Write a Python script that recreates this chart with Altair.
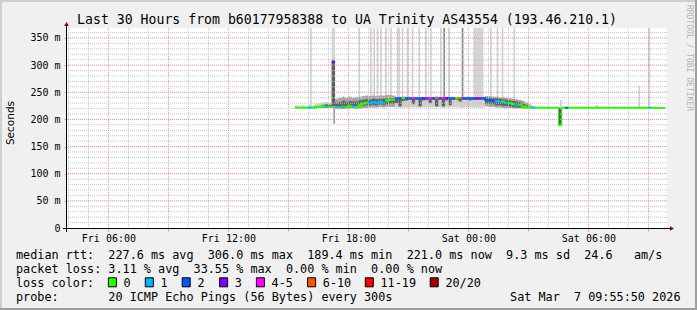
import altair as alt
import pandas as pd

# ---------------- data ----------------
FIRST_STEP = "2026-03-06T15:20:00"   # start of the first 10-minute step
STEP_MIN = 10

# median round-trip time per step (ms)
median_ms = [
    221.5, 221.5, 221.5, 221.5, 221.5, 221.5, 223, 223, 224, 224,
    223, 306, 223, 222, 224, 223, 225, 224, 223, 226,
    229, 231, 230, 232, 230, 233, 231, 235, 236, 236,
    239, 239, 239, 239, 239, 239, 239, 239, 239, 239,
    239, 239, 239, 239, 239.5, 239.5, 239, 239, 239, 239,
    239, 239, 239, 239, 239, 239, 239, 236, 235, 235,
    234, 232, 233, 231, 230, 228, 226, 227, 224, 222,
    221.5, 221.5, 221.5, 221.5, 221.5, 221.5, 221.5, 221.5, 221.5, 189.4,
    221.5, 221.5, 221.5, 221.5, 221.5, 221.5, 221.5, 221.5, 221.5, 221.5,
    221.5, 221.5, 221.5, 221.5, 221.5, 221.5, 221.5, 221.5, 221.5, 221.5,
    221.5, 221.5, 221.5, 221.5, 221.5, 221.5, 221.5, 221.5, 221, 221,
    221,
]
# lost pings (of 20) per step
loss_pings = [
    0, 0, 0, 0, 1, 0, 0, 0, 0, 1,
    0, 3, 1, 0, 1, 0, 0, 1, 0, 0,
    0, 0, 1, 1, 1, 1, 1, 0, 0, 0,
    2, 2, 0, 2, 2, 5, 2, 2, 3, 2,
    4, 2, 8, 2, 5, 3, 2, 2, 0, 6,
    2, 2, 2, 2, 3, 3, 2, 2, 2, 2,
    1, 1, 0, 1, 0, 0, 1, 0, 0, 0,
    0, 1, 0, 0, 0, 0, 0, 0, 0, 0,
    0, 2, 0, 0, 0, 0, 0, 0, 0, 0,
    0, 0, 0, 0, 0, 0, 0, 0, 0, 0,
    0, 0, 0, 0, 0, 0, 1, 0, 0, 0,
    0,
]
# outer smoke (ms)
smoke_lo_ms = [
    221, 221, 221, 221, 220, 221, 221, 221, 221, 221,
    221, 221, 219, 219, 219, 219, 220, 220, 219, 220,
    221, 221, 222, 222, 222, 223, 222, 223, 223, 223,
    222, 222, 222, 222, 222, 222, 222, 222, 222, 222,
    222, 222, 222, 222, 222, 222, 222, 222, 222, 222,
    222, 222, 222, 222, 222, 222, 222, 224, 223, 223,
    222, 222, 221, 221, 221, 220, 220, 220, 220, 220,
    220, 220, 220, 220, 220, 220, 220, 220, 220, 189,
    220, 220, 220, 220, 220, 220, 220, 220, 220, 220,
    220, 220, 220, 220, 220, 220, 220, 220, 220, 220,
    220, 220, 220, 220, 220, 220, 220, 220, 220, 220,
    220,
]
smoke_hi_ms = [
    226, 225, 226, 225, 227, 226, 229, 230, 231, 232,
    231, 310, 238, 240, 242, 240, 242, 240, 241, 242,
    243, 244, 243, 244, 243, 244, 244, 245, 245, 244,
    242, 242, 243, 242, 242, 242, 242, 242, 242, 242,
    242, 242, 243, 242, 242, 242, 242, 242, 242, 242,
    242, 242, 242, 242, 242, 242, 242, 243, 243, 242,
    242, 241, 241, 240, 239, 238, 237, 236, 234, 231,
    229, 226, 224, 223, 223, 223, 223, 223, 223, 222,
    223, 223, 223, 223, 223, 223, 223, 223, 223, 223,
    226, 223, 223, 223, 223, 223, 223, 223, 223, 223,
    223, 223, 223, 223, 223, 223, 223, 223, 223, 223,
    223,
]
# how dense the outer smoke is per step (1 sparse, 2 dense)
smoke_tone = [
    1, 1, 1, 1, 1, 1, 1, 1, 1, 1,
    1, 2, 2, 2, 2, 2, 2, 2, 2, 2,
    2, 2, 2, 2, 2, 2, 2, 2, 2, 2,
    1, 1, 1, 1, 1, 1, 1, 1, 1, 1,
    1, 1, 1, 1, 1, 1, 1, 1, 1, 1,
    1, 1, 1, 1, 1, 1, 1, 2, 2, 2,
    2, 2, 2, 2, 2, 2, 2, 2, 2, 2,
    1, 1, 1, 1, 1, 1, 1, 1, 1, 2,
    1, 1, 1, 1, 1, 1, 1, 1, 1, 1,
    1, 1, 1, 1, 1, 1, 1, 1, 1, 1,
    1, 1, 1, 1, 1, 1, 1, 1, 1, 1,
    1,
]
# dense core of the smoke (ms)
core_lo_ms = [
    221, 221, 221, 221, 221, 221, 222, 222, 222, 222,
    222, 225, 222, 222, 222, 222, 223, 223, 222, 224,
    225, 226, 226, 227, 226, 228, 227, 228, 229, 229,
    230, 224, 234, 235, 236, 228, 236, 224, 235, 236,
    230, 236, 224, 236, 224, 235, 226, 236, 236, 233,
    236, 236, 235, 236, 236, 236, 236, 229, 228, 228,
    226, 226, 225, 225, 224, 223, 222, 222, 221, 221,
    221, 221, 221, 221, 221, 221, 221, 221, 221, 190,
    221, 221, 221, 221, 221, 221, 221, 221, 221, 221,
    221, 221, 221, 221, 221, 221, 221, 221, 221, 221,
    221, 221, 221, 221, 221, 221, 221, 221, 221, 221,
    221,
]
core_hi_ms = [
    222, 222, 222, 222, 223, 222, 224, 225, 227, 228,
    227, 308, 230, 232, 234, 232, 234, 233, 233, 235,
    236, 237, 236, 238, 237, 238, 238, 239, 239, 239,
    241, 241, 241, 241, 241, 241, 241, 241, 241, 241,
    241, 241, 241, 241, 241, 241, 241, 241, 241, 241,
    241, 241, 241, 241, 241, 241, 241, 240, 240, 239,
    239, 238, 237, 236, 235, 234, 233, 232, 229, 226,
    224, 222, 222, 222, 222, 222, 222, 222, 222, 221,
    222, 222, 222, 222, 222, 222, 222, 222, 222, 222,
    222, 222, 222, 222, 222, 222, 222, 222, 222, 222,
    222, 222, 222, 222, 222, 222, 222, 222, 222, 222,
    222,
]

# single-ping outliers (5-minute steps)
stripe_start = [
    "2026-03-06T16:05", "2026-03-06T17:10", "2026-03-06T17:15", "2026-03-06T17:15",
    "2026-03-06T18:30", "2026-03-06T19:05", "2026-03-06T19:15", "2026-03-06T19:25",
    "2026-03-06T19:35", "2026-03-06T19:50", "2026-03-06T20:05", "2026-03-06T20:25",
    "2026-03-06T20:30", "2026-03-06T20:40", "2026-03-06T20:55", "2026-03-06T21:10",
    "2026-03-06T21:30", "2026-03-06T21:50", "2026-03-06T22:05", "2026-03-06T22:35",
    "2026-03-06T22:45", "2026-03-06T23:00", "2026-03-06T23:40", "2026-03-07T00:15",
    "2026-03-07T00:20", "2026-03-07T00:25", "2026-03-07T00:30", "2026-03-07T00:35",
    "2026-03-07T00:40", "2026-03-07T01:05", "2026-03-07T01:25", "2026-03-07T01:40",
    "2026-03-07T02:15", "2026-03-07T04:35", "2026-03-07T08:30", "2026-03-07T09:00",
]
stripe_lo_ms = [
    222, 222, 222, 192, 222, 222, 222, 222, 222, 222, 222, 222,
    222, 222, 222, 222, 222, 222, 222, 222, 222, 222, 222, 222,
    222, 222, 222, 222, 222, 222, 222, 222, 222, 222, 222, 222,
]
stripe_hi_ms = [
    400, 400, 400, 222, 400, 400, 400, 400, 400, 400, 400, 400,
    400, 400, 400, 400, 400, 400, 400, 400, 400, 400, 400, 400,
    400, 400, 400, 400, 400, 400, 400, 400, 400, 236, 262, 400,
]
stripe_tone = [
    "light", "light", "light", "mid", "light", "light", "light", "light", "light", "light", "light", "light",
    "light", "light", "light", "light", "light", "light", "light", "light", "dark", "light", "dark", "light",
    "light", "light", "light", "light", "light", "light", "light", "light", "light", "light", "light", "light",
]

loss_upper = [0, 1, 2, 3, 5, 10, 19, 20]
loss_labels = ["0", "1", "2", "3", "4-5", "6-10", "11-19", "20/20"]
loss_colors = ["#26ff00", "#00b8ff", "#0059ff", "#7e00ff", "#ff00ff", "#ff5500", "#ff0000", "#a10000"]

title_text = "Last 30 Hours from b60177958388 to UA Trinity AS43554 (193.46.210.1)"
y_title = "Seconds"
row_median = "median rtt:  227.6 ms avg  306.0 ms max  189.4 ms min  221.0 ms now  9.3 ms sd  24.6   am/s"
row_loss = "packet loss: 3.11 % avg  33.55 % max  0.00 % min  0.00 % now"
row_color = "loss color:"
row_probe = "probe:       20 ICMP Echo Pings (56 Bytes) every 300s"
date_text = "Sat Mar  7 09:55:50 2026"
watermark = "RRDTOOL / TOBI OETIKER"

# ---------------- layout / style ----------------
W, H = 600, 200
PAD = {"left": 67, "top": 28, "right": 30, "bottom": 82}
Y_MAX = 368.4
MONO = "DejaVu Sans Mono"
MGRID = "#ef8c8c"
GRID = "#c4c4c4"
TONES = {"light": "#d0d0d0", "mid": "#9a9a9a", "dark": "#858585"}
SMOKE = {1: "#cfcfcf", 2: "#a2a2a2"}
CORE = "#5e5e5e"

T0 = alt.DateTime(year=2026, month=3, date=6, hours=3, minutes=55, seconds=50)
T1 = alt.DateTime(year=2026, month=3, date=7, hours=9, minutes=55, seconds=50)
xs = alt.Scale(domain=[T0, T1])
ys = alt.Scale(domain=[0, Y_MAX], nice=False, zero=False)


def color_for(l):
    for up, c in zip(loss_upper, loss_colors):
        if l <= up:
            return c
    return loss_colors[-1]


n = len(median_ms)
t0 = pd.Timestamp(FIRST_STEP)
ts = [t0 + pd.Timedelta(minutes=STEP_MIN * i) for i in range(n)]
steps = pd.DataFrame({
    "t": ts,
    "t2": [t + pd.Timedelta(minutes=STEP_MIN) for t in ts],
    "med": median_ms,
    "col": [color_for(l) for l in loss_pings],
    "slo": smoke_lo_ms, "shi": smoke_hi_ms,
    "scol": [SMOKE[k] for k in smoke_tone],
    "clo": core_lo_ms, "chi": core_hi_ms,
})

conn = []
for i in range(1, n):
    if steps.col[i] == steps.col[i - 1] and median_ms[i] != median_ms[i - 1]:
        jump = abs(median_ms[i] - median_ms[i - 1])
        conn.append({"t": ts[i], "y": median_ms[i - 1], "y2": median_ms[i],
                     "col": steps.col[i], "w": 2 if jump < 15 else 1})
conn = pd.DataFrame(conn)

st = pd.to_datetime(stripe_start)
stripes = pd.DataFrame({
    "t": st, "t2": st + pd.Timedelta(minutes=5),
    "lo": stripe_lo_ms, "hi": stripe_hi_ms,
    "col": [TONES[k] for k in stripe_tone],
})

# grid positions (axis ticks)
hours = pd.date_range("2026-03-06T04:00", "2026-03-07T09:00", freq="h")
minor_v = pd.DataFrame({"t": [h for h in hours if h.hour % 3 != 0]})
major_v = pd.DataFrame({"t": [h for h in hours if h.hour % 3 == 0]})
minor_h = pd.DataFrame({"v": [v for v in range(10, 370, 10) if v % 50 != 0]})
major_h = pd.DataFrame({"v": list(range(50, 400, 50))})

x_tick_vals = []
for h in hours:
    if h.hour % 3 == 0:
        x_tick_vals.append(alt.DateTime(year=h.year, month=h.month, date=h.day, hours=h.hour))

XA = alt.Axis(values=x_tick_vals, title=None, grid=False, domain=False,
              tickColor=MGRID, tickSize=3, labelPadding=2,
              labelExpr="hours(datum.value) % 6 == 0 ? timeFormat(datum.value, '%a %H:%M') : ''",
              labelFont=MONO, labelFontSize=10, labelColor="#000000",
              labelFlush=False, labelOverlap=False)
YA = alt.Axis(values=list(range(0, 400, 50)), title=None, grid=False, domain=False,
              tickColor=MGRID, tickSize=3, labelPadding=4,
              labelExpr="datum.value == 0 ? '0\u00a0\u00a0' : datum.value + '\u00a0m'",
              labelFont=MONO, labelFontSize=10, labelColor="#000000")


def X(f):
    return alt.X(f, scale=xs, axis=XA)


def Y(f):
    return alt.Y(f, scale=ys, axis=YA)


layers = []

layers.append(alt.Chart(stripes).mark_rect(clip=True).encode(
    x=X("t:T"), x2="t2:T", y=Y("lo:Q"), y2="hi:Q",
    color=alt.Color("col:N", scale=None)))

layers.append(alt.Chart(steps).mark_rect().encode(
    x=X("t:T"), x2="t2:T", y=Y("slo:Q"), y2="shi:Q",
    color=alt.Color("scol:N", scale=None)))

layers.append(alt.Chart(steps).mark_rect(color=CORE).encode(
    x=X("t:T"), x2="t2:T", y=Y("clo:Q"), y2="chi:Q"))

layers.append(alt.Chart(minor_v).mark_rule(color=GRID, strokeDash=[1, 1]).encode(x=X("t:T")))
layers.append(alt.Chart(minor_h).mark_rule(color=GRID, strokeDash=[1, 1]).encode(y=Y("v:Q")))
layers.append(alt.Chart(major_v).mark_rule(color=MGRID, strokeDash=[1, 1]).encode(x=X("t:T")))
layers.append(alt.Chart(major_h).mark_rule(color=MGRID, strokeDash=[1, 1]).encode(y=Y("v:Q")))

layers.append(alt.Chart(steps).mark_rule(strokeWidth=2).encode(
    x=X("t:T"), x2="t2:T", y=Y("med:Q"),
    color=alt.Color("col:N", scale=None)))
layers.append(alt.Chart(conn).mark_rule(strokeCap="square").encode(
    x=X("t:T"), y=Y("y:Q"), y2="y2:Q",
    color=alt.Color("col:N", scale=None),
    strokeWidth=alt.StrokeWidth("w:Q", scale=None)))

one = pd.DataFrame({"k": [0]})

# axis lines and arrows
layers.append(alt.Chart(one).mark_rule(color="#000000").encode(
    x=alt.value(-4), x2=alt.value(604), y=alt.value(200.5)))
layers.append(alt.Chart(one).mark_rule(color="#000000").encode(
    x=alt.value(-0.5), y=alt.value(-4), y2=alt.value(204)))
layers.append(alt.Chart(one).mark_point(shape="triangle-up", filled=True, size=22, color="#7f0000", opacity=1).encode(
    x=alt.value(-0.5), y=alt.value(-4)))
layers.append(alt.Chart(one).mark_point(shape="triangle-right", filled=True, size=22, color="#7f0000", opacity=1).encode(
    x=alt.value(605), y=alt.value(200.5)))

# frame shading
layers.append(alt.Chart(one).mark_rule(color="#cfcfcf", strokeWidth=2).encode(
    x=alt.value(-67), x2=alt.value(630), y=alt.value(-27)))
layers.append(alt.Chart(one).mark_rule(color="#cfcfcf", strokeWidth=2).encode(
    x=alt.value(-66), y=alt.value(-28), y2=alt.value(282)))
layers.append(alt.Chart(one).mark_rule(color="#9e9e9e", strokeWidth=2).encode(
    x=alt.value(-67), x2=alt.value(630), y=alt.value(281)))
layers.append(alt.Chart(one).mark_rule(color="#9e9e9e", strokeWidth=2).encode(
    x=alt.value(629), y=alt.value(-28), y2=alt.value(282)))


def nb(s):
    return s.replace(" ", "\u00a0")


def text_layer(txt, x, y, size=11.8, align="left", font=MONO, angle=0, color="#000000"):
    kw = dict(text=nb(txt), align=align, baseline="middle", font=font, fontSize=size, color=color)
    if angle:
        kw["angle"] = angle
    return alt.Chart(one).mark_text(**kw).encode(x=alt.value(x), y=alt.value(y))


OX, OY = PAD["left"], PAD["top"]
layers.append(text_layer(title_text, 347 - OX, 19.5 - OY, size=13.2, align="center"))
layers.append(text_layer(y_title, 10.5 - OX, 123 - OY, size=10.5, align="center", font="DejaVu Sans", angle=270))
layers.append(text_layer(row_median, 16 - OX, 254.5 - OY))
layers.append(text_layer(row_loss, 16 - OX, 268.5 - OY))
layers.append(text_layer(row_color, 16 - OX, 282.5 - OY))
layers.append(text_layer(row_probe, 16 - OX, 296.5 - OY))
layers.append(text_layer(date_text, 680.5 - OX, 296.5 - OY, align="right"))
layers.append(text_layer(watermark, 688.5 - OX, 5 - OY, size=8, angle=90, color="#b4b4b4"))

box_x = [108.4, 145.3, 182.2, 219.6, 256.4, 307.6, 365.3, 430.2]
for bx, lab, c in zip(box_x, loss_labels, loss_colors):
    layers.append(alt.Chart(one).mark_rect(fill=c, stroke="#000000", strokeWidth=1).encode(
        x=alt.value(bx - OX), x2=alt.value(bx - OX + 8),
        y=alt.value(277.8 - OY), y2=alt.value(286.8 - OY)))
    layers.append(text_layer(lab, bx + 15.2 - OX, 282.5 - OY))

chart = alt.layer(*layers).properties(
    width=W, height=H,
    autosize=alt.AutoSizeParams(type="none"),
    padding=PAD,
    background="#f0f0f0",
).configure_view(fill="#ffffff", strokeWidth=0)

chart.save("out.html", embed_options={"renderer": "svg", "actions": False})
